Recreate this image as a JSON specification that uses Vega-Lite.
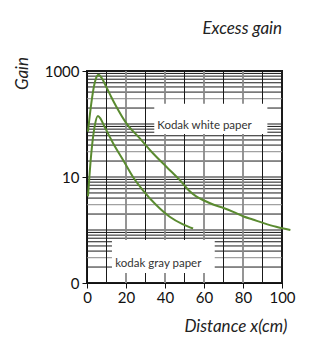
{
  "$schema": "https://vega.github.io/schema/vega-lite/v6.json",
  "width": 195,
  "height": 212,
  "autosize": {"type": "none"},
  "padding": {"left": 87, "top": 71, "right": 37, "bottom": 64},
  "background": "white",
  "title": {
    "text": "Excess gain",
    "anchor": "end",
    "frame": "group",
    "orient": "top",
    "baseline": "alphabetic",
    "offset": 5,
    "font": "Lato",
    "fontSize": 17,
    "fontStyle": "italic",
    "fontWeight": "normal",
    "color": "#222"
  },
  "config": {
    "view": {"stroke": "#1a1a1a", "strokeWidth": 2},
    "font": "Lato",
    "axis": {
      "labelFont": "Lato",
      "labelFontSize": 15,
      "labelColor": "#111",
      "labelOverlap": false,
      "labelBound": false,
      "labelFlush": false,
      "tickColor": "#111",
      "domainColor": "#111",
      "tickSize": 5,
      "grid": false,
      "titleFont": "Lato",
      "titleFontSize": 17,
      "titleFontStyle": "italic",
      "titleFontWeight": "normal",
      "titleColor": "#222"
    }
  },
  "datasets": {
    "hgrid": [
      {"gain": 0.2, "tone": "dark"}, {"gain": 0.3, "tone": "light"}, {"gain": 0.4, "tone": "dark"}, {"gain": 0.5, "tone": "dark"}, {"gain": 0.6, "tone": "dark"}, {"gain": 0.7, "tone": "dark"}, {"gain": 0.8, "tone": "dark"}, {"gain": 0.9, "tone": "dark"},
      {"gain": 1, "tone": "dark"}, {"gain": 2, "tone": "dark"}, {"gain": 3, "tone": "light"}, {"gain": 4, "tone": "dark"}, {"gain": 5, "tone": "dark"}, {"gain": 6, "tone": "dark"}, {"gain": 7, "tone": "dark"}, {"gain": 8, "tone": "dark"}, {"gain": 9, "tone": "dark"},
      {"gain": 10, "tone": "dark"}, {"gain": 20, "tone": "dark"}, {"gain": 30, "tone": "light"}, {"gain": 40, "tone": "dark"}, {"gain": 50, "tone": "dark"}, {"gain": 60, "tone": "dark"}, {"gain": 70, "tone": "dark"}, {"gain": 80, "tone": "dark"}, {"gain": 90, "tone": "dark"},
      {"gain": 100, "tone": "dark"}, {"gain": 200, "tone": "dark"}, {"gain": 300, "tone": "light"}, {"gain": 400, "tone": "dark"}, {"gain": 500, "tone": "dark"}, {"gain": 600, "tone": "dark"}, {"gain": 700, "tone": "dark"}, {"gain": 800, "tone": "dark"}, {"gain": 900, "tone": "dark"}
    ],
    "vgrid": [
      {"distance": 10, "tone": "dark"}, {"distance": 20, "tone": "light"}, {"distance": 30, "tone": "dark"}, {"distance": 40, "tone": "light"}, {"distance": 50, "tone": "dark"},
      {"distance": 60, "tone": "light"}, {"distance": 70, "tone": "dark"}, {"distance": 80, "tone": "light"}, {"distance": 90, "tone": "dark"}
    ],
    "boxes": [
      {"x0": 34.5, "x1": 92.5, "y0": 65, "y1": 240, "tx": 36, "ty": 90, "label": "Kodak white paper"},
      {"x0": 12.8, "x1": 65.5, "y0": 0.155, "y1": 0.65, "tx": 14.5, "ty": 0.225, "label": "kodak gray paper"}
    ],
    "curves": [
      {"series": "white", "distance": 0.5, "gain": 72},
      {"series": "white", "distance": 2.2, "gain": 245},
      {"series": "white", "distance": 3.9, "gain": 585},
      {"series": "white", "distance": 5, "gain": 790},
      {"series": "white", "distance": 6, "gain": 850},
      {"series": "white", "distance": 7.5, "gain": 740},
      {"series": "white", "distance": 9.9, "gain": 500},
      {"series": "white", "distance": 12.5, "gain": 320},
      {"series": "white", "distance": 15, "gain": 214},
      {"series": "white", "distance": 20.2, "gain": 103},
      {"series": "white", "distance": 27, "gain": 54},
      {"series": "white", "distance": 33.8, "gain": 28},
      {"series": "white", "distance": 40.7, "gain": 15.6},
      {"series": "white", "distance": 47.5, "gain": 8.8},
      {"series": "white", "distance": 52, "gain": 5.7},
      {"series": "white", "distance": 56, "gain": 4.3},
      {"series": "white", "distance": 60, "gain": 3.6},
      {"series": "white", "distance": 65, "gain": 3.0},
      {"series": "white", "distance": 70, "gain": 2.6},
      {"series": "white", "distance": 75, "gain": 2.2},
      {"series": "white", "distance": 80.3, "gain": 1.8},
      {"series": "white", "distance": 85, "gain": 1.58},
      {"series": "white", "distance": 90.6, "gain": 1.35},
      {"series": "white", "distance": 97, "gain": 1.15},
      {"series": "white", "distance": 104.3, "gain": 1.0},
      {"series": "gray", "distance": 0.5, "gain": 4.3},
      {"series": "gray", "distance": 2.2, "gain": 28},
      {"series": "gray", "distance": 3.9, "gain": 89},
      {"series": "gray", "distance": 5.6, "gain": 141},
      {"series": "gray", "distance": 7, "gain": 125},
      {"series": "gray", "distance": 9, "gain": 89},
      {"series": "gray", "distance": 13.3, "gain": 44},
      {"series": "gray", "distance": 18.5, "gain": 21},
      {"series": "gray", "distance": 23.6, "gain": 10},
      {"series": "gray", "distance": 28.7, "gain": 5.6},
      {"series": "gray", "distance": 35.5, "gain": 2.96},
      {"series": "gray", "distance": 42.4, "gain": 1.78},
      {"series": "gray", "distance": 49.2, "gain": 1.28},
      {"series": "gray", "distance": 54.4, "gain": 1.07}
    ]
  },
  "encoding": {
    "x": {
      "type": "quantitative",
      "scale": {"domain": [0, 100], "nice": false, "zero": false},
      "axis": {
        "title": "Distance x(cm)",
        "values": [0, 20, 40, 60, 80, 100],
        "labelOverlap": false,
        "labelSeparation": 0,
        "labelPadding": 2,
        "titleAnchor": "end",
        "titleAlign": "right",
        "titleBaseline": "middle",
        "titleX": 200,
        "titleY": 43
      }
    },
    "y": {
      "type": "quantitative",
      "scale": {"type": "log", "domain": [0.1, 1000], "nice": false},
      "axis": {
        "title": "Gain",
        "values": [0.1, 10, 1000],
        "labelExpr": "datum.value < 1 ? '0' : format(datum.value, 'd')",
        "labelOverlap": false,
        "labelPadding": 3,
        "titleAngle": 270,
        "titleAlign": "center",
        "titleBaseline": "middle",
        "titleX": -65,
        "titleY": 2
      }
    }
  },
  "layer": [
    {
      "data": {"name": "hgrid"},
      "mark": {"type": "rule", "strokeWidth": 1},
      "encoding": {
        "x": null,
        "y": {"field": "gain", "type": "quantitative"},
        "color": {"field": "tone", "type": "nominal", "scale": {"domain": ["dark", "light"], "range": ["#1a1a1a", "#8a8a8a"]}, "legend": null},
        "strokeWidth": {"field": "tone", "type": "nominal", "scale": {"domain": ["dark", "light"], "range": [1, 1.8]}, "legend": null}
      }
    },
    {
      "data": {"name": "vgrid"},
      "mark": {"type": "rule"},
      "encoding": {
        "x": {"field": "distance", "type": "quantitative"},
        "y": null,
        "color": {"field": "tone", "type": "nominal", "scale": {"domain": ["dark", "light"], "range": ["#1a1a1a", "#8a8a8a"]}, "legend": null},
        "strokeWidth": {"field": "tone", "type": "nominal", "scale": {"domain": ["dark", "light"], "range": [1, 1.8]}, "legend": null}
      }
    },
    {
      "data": {"name": "boxes"},
      "mark": {"type": "rect", "fill": "white", "stroke": null},
      "encoding": {
        "x": {"field": "x0", "type": "quantitative"},
        "x2": {"field": "x1"},
        "y": {"field": "y0", "type": "quantitative"},
        "y2": {"field": "y1"}
      }
    },
    {
      "data": {"name": "boxes"},
      "mark": {"type": "text", "align": "left", "baseline": "middle", "font": "Lato", "fontSize": 11.5, "color": "#333"},
      "encoding": {
        "x": {"field": "tx", "type": "quantitative"},
        "y": {"field": "ty", "type": "quantitative"},
        "text": {"field": "label"}
      }
    },
    {
      "data": {"name": "curves"},
      "mark": {"type": "line", "interpolate": "monotone", "strokeWidth": 2, "clip": false},
      "encoding": {
        "x": {"field": "distance", "type": "quantitative"},
        "y": {"field": "gain", "type": "quantitative"},
        "detail": {"field": "series", "type": "nominal"},
        "color": {"value": "#5a8b30"}
      }
    }
  ]
}
